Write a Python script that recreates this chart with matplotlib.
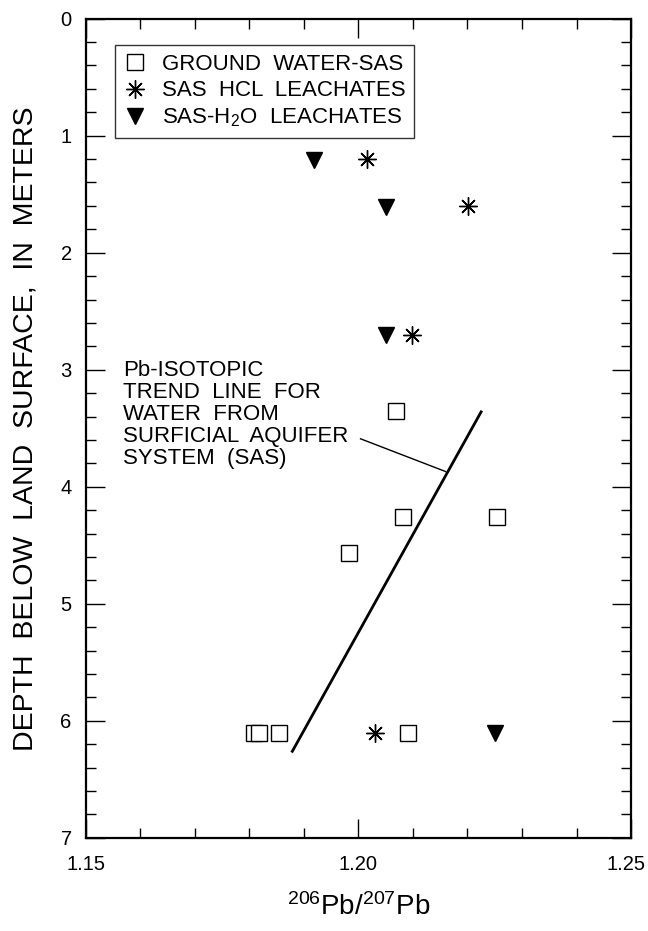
import matplotlib
matplotlib.use('Agg')
import matplotlib.pyplot as plt
import matplotlib.transforms as mtransforms
from matplotlib.ticker import MultipleLocator

plt.rcParams['font.family'] = ['Liberation Sans', 'DejaVu Sans']
plt.rcParams['mathtext.default'] = 'regular'

# ground water (SAS)
gw_x = [1.2069, 1.2081, 1.2254, 1.1982, 1.1809, 1.1818, 1.1854, 1.2091]
gw_y = [3.35, 4.26, 4.26, 4.57, 6.10, 6.10, 6.10, 6.10]

# SAS HCl leachates
hcl_x = [1.2016, 1.2201, 1.2098, 1.2031]
hcl_y = [1.20, 1.60, 2.70, 6.10]

# SAS-H2O leachates
h2o_x = [1.1918, 1.2050, 1.2051, 1.2250]
h2o_y = [1.21, 1.61, 2.70, 6.10]

# trend line and label leader
trend_x = [1.1879, 1.2225]
trend_y = [6.26, 3.36]
leader_x = [1.2004, 1.2160]
leader_y = [3.59, 3.87]

fig = plt.figure(figsize=(6.48, 9.31), dpi=100)
ax = fig.add_axes([0.132, 0.100, 0.842, 0.880])

ax.plot(gw_x, gw_y, 's', ms=11, mfc='white', mec='black', mew=1.0, ls='none',
        label='GROUND  WATER-SAS')
ax.plot(hcl_x, hcl_y, marker=(8, 2, 0), ms=13, color='black', mew=1.0, ls='none',
        label='SAS  HCL  LEACHATES')
ax.plot(h2o_x, h2o_y, 'v', ms=11, color='black', ls='none',
        label='SAS-H$_2$O  LEACHATES')

ax.plot(trend_x, trend_y, '-', color='black', lw=2.0)
ax.plot(leader_x, leader_y, '-', color='black', lw=1.0)

ax.text(1.1568, 2.92, 'Pb-ISOTOPIC\nTREND  LINE  FOR\nWATER  FROM\nSURFICIAL  AQUIFER\nSYSTEM  (SAS)',
        fontsize=16, va='top', ha='left', linespacing=1.05)

ax.set_xlim(1.15, 1.25)
ax.set_ylim(7, 0)
ax.xaxis.set_minor_locator(MultipleLocator(0.01))
ax.yaxis.set_major_locator(MultipleLocator(1))
ax.yaxis.set_minor_locator(MultipleLocator(0.2))
ax.set_xticks([1.15, 1.20, 1.25])
ax.set_xticklabels(['1.15', '1.20', '1.25'])
ax.tick_params(which='both', direction='in', top=True, right=True, labelsize=14.5, width=1.0)
ax.tick_params(which='major', length=14)
ax.tick_params(which='minor', length=7)
ax.tick_params(axis='x', which='major', pad=12)
ax.tick_params(axis='y', which='major', pad=10)
for s in ax.spines.values():
    s.set_linewidth(1.6)

# pull the last x label in a little, as in the original
last = ax.get_xticklabels()[-1]
last.set_transform(last.get_transform() + mtransforms.ScaledTranslation(-5 / 100, 0, fig.dpi_scale_trans))

ax.set_xlabel('$^{206}$Pb/$^{207}$Pb', fontsize=20, labelpad=14)
ax.set_ylabel('DEPTH  BELOW  LAND  SURFACE,  IN  METERS', fontsize=20.5, labelpad=16)

leg = ax.legend(loc='upper left', bbox_to_anchor=(0.054, 0.968), fontsize=16,
                frameon=True, fancybox=False, edgecolor='black', handlelength=1.0,
                handletextpad=0.7, borderpad=0.4, labelspacing=0.25, borderaxespad=0)
leg.get_frame().set_linewidth(1.0)

plt.savefig('out.png', dpi=100)
